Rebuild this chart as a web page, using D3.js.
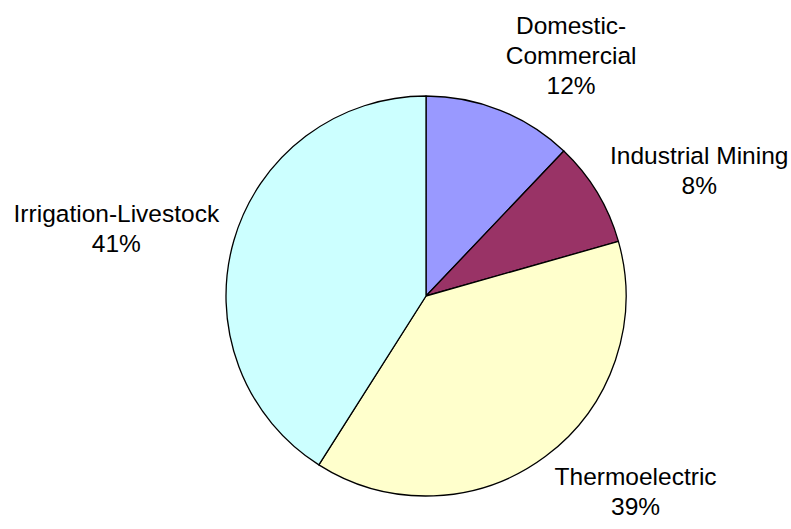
<!DOCTYPE html>
<html>
<head>
<meta charset="utf-8">
<script src="https://cdn.jsdelivr.net/npm/d3@7"></script>
<style>
  body { margin: 0; background: #fff; }
  text { font-family: "Liberation Sans", Arial, sans-serif; font-size: 24.5px; fill: #000; }
</style>
</head>
<body>
<script>
// Water use by sector (share of total)
var categories = ["Domestic-Commercial", "Industrial Mining", "Thermoelectric", "Irrigation-Livestock"];
var values = [12.1, 8.5, 38.4, 41.0];
var percentLabels = ["12%", "8%", "39%", "41%"];
var labelLines = [["Domestic-", "Commercial"], ["Industrial Mining"], ["Thermoelectric"], ["Irrigation-Livestock"]];
var colors = ["#9999FF", "#993366", "#FFFFCC", "#CCFFFF"];

var width = 791, height = 529;
var cx = 426, cy = 296, radius = 200;

var svg = d3.select("body").append("svg")
    .attr("width", width)
    .attr("height", height);

var data = categories.map(function (c, i) {
  return { name: c, value: values[i], pct: percentLabels[i], lines: labelLines[i], color: colors[i] };
});

// keep order, start at 12 o'clock going clockwise
var pie = d3.pie().sort(null).value(function (d) { return d.value; });
var arc = d3.arc().innerRadius(0).outerRadius(radius);
var arcs = pie(data);

var g = svg.append("g").attr("transform", "translate(" + cx + "," + cy + ")");

g.selectAll("path.slice")
  .data(arcs)
  .enter()
  .append("path")
    .attr("class", "slice")
    .attr("d", arc)
    .style("fill", function (d) { return d.data.color; })
    .style("stroke", "#000")
    .style("stroke-width", 1.3)
    .style("stroke-linejoin", "round");

// label anchor point just outside the rim at each slice's mid-angle
var labelArc = d3.arc().innerRadius(radius + 15).outerRadius(radius + 15);
var lineH = 30;

var labels = g.selectAll("text.label")
  .data(arcs)
  .enter()
  .append("text")
    .attr("class", "label")
    .attr("text-anchor", "middle");

labels.each(function (d) {
  var t = d3.select(this);
  var lines = d.data.lines.concat([d.data.pct]);
  lines.forEach(function (s, i) {
    t.append("tspan").attr("x", 0).attr("dy", i ? lineH : 0).text(s);
  });
  // push the text block outward from the anchor
  var box = this.getBBox();
  var c = labelArc.centroid(d);
  var mid = (d.startAngle + d.endAngle) / 2;
  var sx = Math.sin(mid) >= 0 ? 1 : -1;
  var x = c[0] + sx * box.width / 2;
  // keep it inside the picture
  var half = box.width / 2;
  x = Math.max(-cx + half + 2, Math.min(width - cx - half - 2, x));
  var y = c[1] - Math.cos(mid) * box.height / 2 - (box.y + box.height / 2);
  t.attr("transform", "translate(" + x + "," + y + ")");
});
</script>
</body>
</html>
